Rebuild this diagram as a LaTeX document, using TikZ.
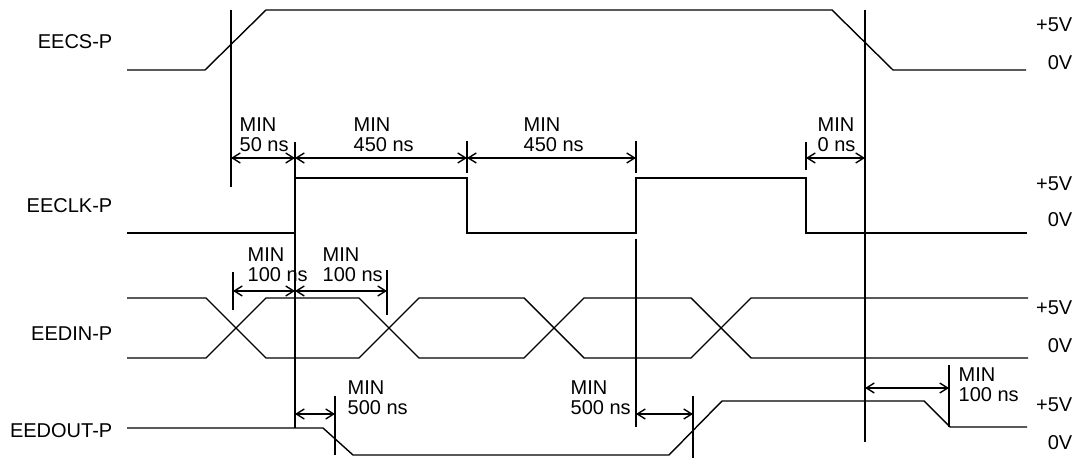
\documentclass[tikz,border=0pt]{standalone}
\usepackage{fontspec}
\setmainfont{Liberation Sans}
\usetikzlibrary{arrows.meta}
\begin{document}
\begin{tikzpicture}[x=0.5pt,y=-0.5pt, line width=0.7pt,
  wave/.style={draw=black, line join=miter},
  guide/.style={draw=black},
  dim/.style={draw=black, {Straight Barb[length=4pt,width=5pt]}-{Straight Barb[length=4pt,width=5pt]}},
  sig/.style={anchor=base east, inner sep=0pt, font=\fontsize{10}{10}\selectfont},
  volt/.style={anchor=base east, inner sep=0pt, font=\fontsize{10}{10}\selectfont},
  minlbl/.style={anchor=north west, inner sep=0pt, align=left, font=\fontsize{10}{10}\selectfont}]
\useasboundingbox (0,0) rectangle (1087,458);

% signal names
\node[sig] (ncs)  at (113,49)  {EECS-P};
\node[sig] (nclk) at (113,213) {EECLK-P};
\node[sig] (ndin) at (113,341) {EEDIN-P};
\node[sig] (ndout) at (113,438) {EEDOUT-P};

% voltage levels
\node[volt] (v1h) at (1073,32)  {+5V};
\node[volt] (v1l) at (1073,70)  {0V};
\node[volt] (v2h) at (1073,191) {+5V};
\node[volt] (v2l) at (1073,227) {0V};
\node[volt] (v3h) at (1073,315) {+5V};
\node[volt] (v3l) at (1073,353) {0V};
\node[volt] (v4h) at (1073,412) {+5V};
\node[volt] (v4l) at (1073,450) {0V};

% waveforms
\draw[wave] (127,70) -- (205,70) -- (266,10) -- (832,10) -- (893,70) -- (1026,70);
\draw[wave] (127,233) -- (295,233) -- (295,178) -- (467,178) -- (467,233) -- (636,233)
            -- (636,178) -- (806,178) -- (806,233) -- (1027,233);
\draw[wave] (127,298) -- (206,298) -- (266,358) -- (359,358) -- (419,298) -- (524,298)
            -- (584,358) -- (691,358) -- (751,298) -- (1028,298);
\draw[wave] (127,358) -- (206,358) -- (266,298) -- (359,298) -- (419,358) -- (524,358)
            -- (584,298) -- (691,298) -- (751,358) -- (1028,358);
\draw[wave] (127,428) -- (323,428) -- (353,455) -- (669,455) -- (722,401) -- (924,401)
            -- (950,427) -- (1027,427);

% guide lines
\draw[guide] (231,10) -- (231,187);
\draw[guide] (865,10) -- (865,442);
\draw[guide] (295,142) -- (295,428);
\draw[guide] (467,141) -- (467,173);
\draw[guide] (636,141) -- (636,173);
\draw[guide] (636,239) -- (636,427);
\draw[guide] (806,142) -- (806,170);
\draw[guide] (233,272) -- (233,310);
\draw[guide] (387,270) -- (387,315);
\draw[guide] (335,396) -- (335,455);
\draw[guide] (693,396) -- (693,458);
\draw[guide] (949,365) -- (949,427);

% dimension arrows
\draw[dim] (231,158) -- (295,158);
\draw[dim] (295,158) -- (467,158);
\draw[dim] (467,158) -- (636,158);
\draw[dim] (806,158) -- (865,158);
\draw[dim] (233,291) -- (295,291);
\draw[dim] (295,291) -- (387,291);
\draw[dim] (295,414) -- (335,414);
\draw[dim] (636,414) -- (693,414);
\draw[dim] (865,388) -- (949,388);

% timing labels
\node[minlbl] (t1) at (239,117) {MIN\\50 ns};
\node[minlbl] (t2) at (353,117) {MIN\\450 ns};
\node[minlbl] (t3) at (523,117) {MIN\\450 ns};
\node[minlbl] (t4) at (817,117) {MIN\\0 ns};
\node[minlbl] (t5) at (247,247) {MIN\\100 ns};
\node[minlbl] (t6) at (322,247) {MIN\\100 ns};
\node[minlbl] (t7) at (347,380) {MIN\\500 ns};
\node[minlbl] (t8) at (570,380) {MIN\\500 ns};
\node[minlbl] (t9) at (958,367) {MIN\\100 ns};
\end{tikzpicture}
\end{document}
